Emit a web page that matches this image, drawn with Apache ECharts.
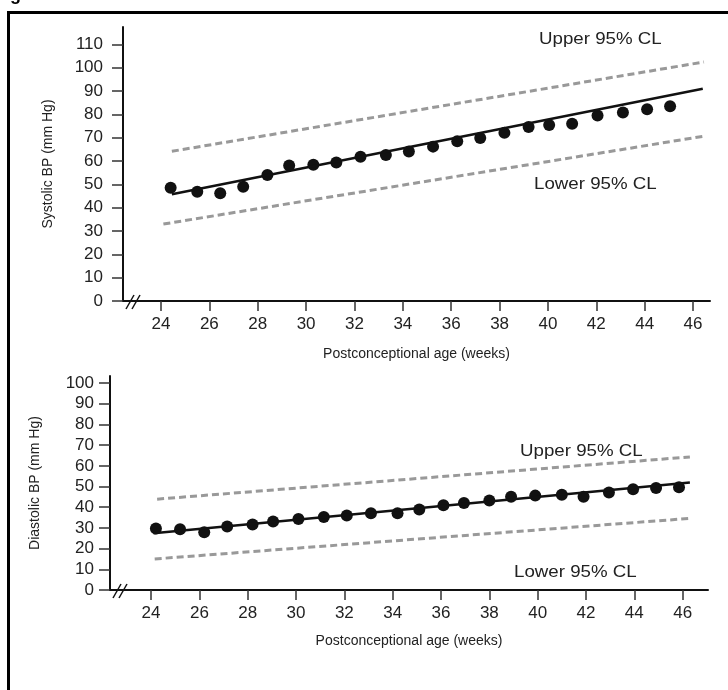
<!DOCTYPE html>
<html>
<head>
<meta charset="utf-8">
<script src="https://cdn.jsdelivr.net/npm/echarts@6/dist/echarts.min.js"></script>
<style>
html, body { margin: 0; padding: 0; background: #fff; }
#chart { width: 728px; height: 690px; }
</style>
</head>
<body>
<div id="chart"></div>
<script>
// systolic: weekly means (weeks, mm Hg)
const sysWeeks = [24.4, 25.5, 26.45, 27.4, 28.4, 29.3, 30.3, 31.25, 32.25, 33.3, 34.25, 35.25, 36.25, 37.2, 38.2, 39.2, 40.05, 41.0, 42.05, 43.1, 44.1, 45.05];
const sysValues = [48.6, 46.9, 46.2, 49.0, 54.0, 58.1, 58.4, 59.4, 61.9, 62.6, 64.1, 66.2, 68.5, 69.9, 72.1, 74.6, 75.5, 76.0, 79.5, 80.8, 82.2, 83.5];
const sysFit = [[24.45, 45.8], [46.4, 91.0]];
const sysUpper = [[24.45, 64.2], [46.45, 102.5]];
const sysLower = [[24.1, 33.0], [46.4, 70.6]];

// diastolic
const diaWeeks = [24.2, 25.2, 26.2, 27.15, 28.2, 29.05, 30.1, 31.15, 32.1, 33.1, 34.2, 35.1, 36.1, 36.95, 38.0, 38.9, 39.9, 41.0, 41.9, 42.95, 43.95, 44.9, 45.85];
const diaValues = [29.7, 29.4, 27.9, 30.7, 31.7, 33.1, 34.3, 35.3, 36.0, 37.1, 37.1, 38.9, 41.0, 42.0, 43.3, 45.1, 45.6, 46.0, 45.0, 47.1, 48.7, 49.3, 49.6];
const diaFit = [[24.1, 27.4], [46.3, 51.9]];
const diaUpper = [[24.25, 43.9], [46.3, 64.3]];
const diaLower = [[24.15, 15.0], [46.3, 34.6]];

const xTicks = [24, 26, 28, 30, 32, 34, 36, 38, 40, 42, 44, 46];
const sysYTicks = [0, 10, 20, 30, 40, 50, 60, 70, 80, 90, 100, 110];
const diaYTicks = [0, 10, 20, 30, 40, 50, 60, 70, 80, 90, 100];

const font = 'Liberation Sans';
const txt = '#222';

function xAxis(idx, min, max, gap) {
  return {
    type: 'value', gridIndex: idx, min: min, max: max,
    name: 'Postconceptional age (weeks)', nameLocation: 'middle', nameGap: gap,
    nameTextStyle: { fontFamily: font, fontSize: 14, color: txt },
    axisLine: { lineStyle: { color: '#111', width: 2 } },
    axisTick: { customValues: xTicks, length: 10, lineStyle: { color: '#333', width: 1.5 } },
    axisLabel: { customValues: xTicks, fontFamily: font, fontSize: 17, color: txt, margin: 15 },
    splitLine: { show: false }
  };
}

function yAxis(idx, max, ticks, title, gap, margin) {
  return {
    type: 'value', gridIndex: idx, min: 0, max: max,
    name: title, nameLocation: 'middle', nameGap: gap, nameRotate: 90,
    nameTextStyle: { fontFamily: font, fontSize: 14, color: txt },
    axisLine: { show: true, lineStyle: { color: '#111', width: 2 } },
    axisTick: { show: true, customValues: ticks, length: 11, lineStyle: { color: '#333', width: 1.5 } },
    axisLabel: { customValues: ticks, fontFamily: font, fontSize: 17, color: txt, margin: margin },
    splitLine: { show: false }
  };
}

function ciLine(idx, data) {
  return {
    type: 'line', xAxisIndex: idx, yAxisIndex: idx, data: data, symbol: 'none', silent: true,
    lineStyle: { color: '#999', width: 3, type: [7, 4] }
  };
}

function clLabel(text, x, y) {
  return { type: 'text', x: x, y: y, scaleX: 1.1,
    style: { text: text, font: '17px ' + font, fill: txt, textVerticalAlign: 'middle' } };
}

const chart = echarts.init(document.getElementById('chart'));
chart.setOption({
  animation: false,
  grid: [
    { left: 123, top: 27, width: 587, height: 274 },
    { left: 110, top: 376, width: 598, height: 214 }
  ],
  xAxis: [xAxis(0, 22.43, 46.7, 46), xAxis(1, 22.3, 47.05, 44)],
  yAxis: [
    yAxis(0, 117.5, sysYTicks, 'Systolic BP (mm Hg)', 68, 20),
    yAxis(1, 103.4, diaYTicks, 'Diastolic BP (mm Hg)', 68, 16)
  ],
  series: [
    ciLine(0, sysUpper),
    ciLine(0, sysLower),
    { type: 'line', xAxisIndex: 0, yAxisIndex: 0, data: sysFit, symbol: 'none',
      lineStyle: { color: '#111', width: 2.5 } },
    { type: 'scatter', xAxisIndex: 0, yAxisIndex: 0, symbolSize: 12,
      data: sysWeeks.map((w, i) => [w, sysValues[i]]), itemStyle: { color: '#111', opacity: 1 } },
    ciLine(1, diaUpper),
    ciLine(1, diaLower),
    { type: 'line', xAxisIndex: 1, yAxisIndex: 1, data: diaFit, symbol: 'none',
      lineStyle: { color: '#111', width: 2.5 } },
    { type: 'scatter', xAxisIndex: 1, yAxisIndex: 1, symbolSize: 12,
      data: diaWeeks.map((w, i) => [w, diaValues[i]]), itemStyle: { color: '#111', opacity: 1 } }
  ],
  graphic: [
    { type: 'rect', shape: { x: 8.5, y: 12.5, width: 900, height: 900 },
      style: { fill: 'none', stroke: '#000', lineWidth: 3 } },
    { type: 'text', style: { text: 'g', x: 10, y: -14, font: 'bold 18px ' + font, fill: '#000' } },
    clLabel('Upper 95% CL', 539, 39),
    clLabel('Lower 95% CL', 534, 184),
    clLabel('Upper 95% CL', 520, 451),
    clLabel('Lower 95% CL', 514, 572),
    // axis breaks
    { type: 'rect', shape: { x: 131, y: 297, width: 6, height: 8 }, style: { fill: '#fff' } },
    { type: 'line', shape: { x1: 126, y1: 309, x2: 134, y2: 295 }, style: { stroke: '#111', lineWidth: 1.5 } },
    { type: 'line', shape: { x1: 132, y1: 309, x2: 140, y2: 295 }, style: { stroke: '#111', lineWidth: 1.5 } },
    { type: 'rect', shape: { x: 118, y: 586, width: 6, height: 8 }, style: { fill: '#fff' } },
    { type: 'line', shape: { x1: 113, y1: 598, x2: 121, y2: 584 }, style: { stroke: '#111', lineWidth: 1.5 } },
    { type: 'line', shape: { x1: 119, y1: 598, x2: 127, y2: 584 }, style: { stroke: '#111', lineWidth: 1.5 } }
  ]
});
</script>
</body>
</html>
